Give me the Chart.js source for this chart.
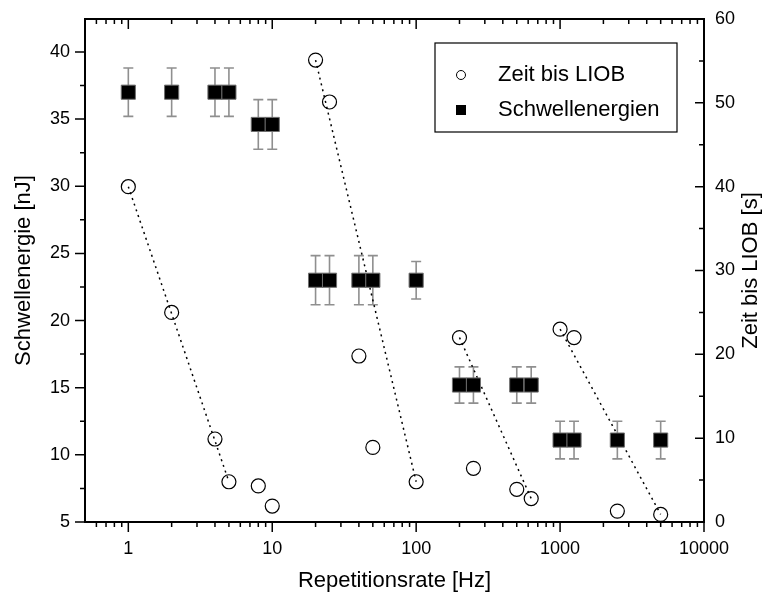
<!DOCTYPE html>
<html>
<head>
<meta charset="utf-8">
<script src="https://cdn.jsdelivr.net/npm/chart.js@4.4.0/dist/chart.umd.min.js"></script>
<style>
  html, body { margin: 0; padding: 0; background: #fff; }
  #wrap { width: 767px; height: 604px; }
</style>
</head>
<body>
<div id="wrap"><canvas id="myChart" width="767" height="604"></canvas></div>
<script>
// Repetitionsrate [Hz]
const rates = [1, 2, 4, 5, 8, 10, 20, 25, 40, 50, 100, 200, 250, 500, 630, 1000, 1250, 2500, 5000];
// Zeit bis LIOB [s] (rechte Achse)
const zeitBisLiob = [40.0, 25.0, 9.9, 4.8, 4.3, 1.9, 55.1, 50.1, 19.8, 8.9, 4.8, 22.0, 6.4, 3.9, 2.8, 23.0, 22.0, 1.3, 0.9];
// Schwellenergien [nJ] (linke Achse) und Fehler
const schwellenergien = [37.0, 37.0, 37.0, 37.0, 34.6, 34.6, 23.0, 23.0, 23.0, 23.0, 23.0, 15.2, 15.2, 15.2, 15.2, 11.1, 11.1, 11.1, 11.1];
const fehler = [1.8, 1.8, 1.8, 1.8, 1.85, 1.85, 1.83, 1.83, 1.83, 1.83, 1.4, 1.35, 1.35, 1.35, 1.35, 1.4, 1.4, 1.4, 1.4];
// punktierte Verbindungslinien: Anfangs- und Endindex in rates
const trendGroups = [[0, 3], [6, 10], [11, 14], [15, 18]];

const xTicks = [1, 10, 100, 1000, 10000];
const leftTicks = [5, 10, 15, 20, 25, 30, 35, 40];
const rightTicks = [0, 10, 20, 30, 40, 50, 60];

const FONT = 'Arial, "Liberation Sans", sans-serif';

const trendSets = trendGroups.map(([a, b]) => ({
  type: 'line',
  label: 'trend',
  data: [{ x: rates[a], y: zeitBisLiob[a] }, { x: rates[b], y: zeitBisLiob[b] }],
  yAxisID: 'y2',
  borderColor: '#000',
  borderWidth: 1.5,
  borderDash: [2, 4],
  pointRadius: 0,
  fill: false
}));

const noPad = s => { s.paddingTop = 0; s.paddingBottom = 0; s.paddingLeft = 0; s.paddingRight = 0; };

const extras = {
  id: 'extras',
  beforeDatasetsDraw(chart) {
    const ctx = chart.ctx, x = chart.scales.x, y = chart.scales.y;
    ctx.save();
    ctx.strokeStyle = '#8f8f8f';
    ctx.lineWidth = 1.6;
    rates.forEach((r, i) => {
      const px = x.getPixelForValue(r);
      const top = y.getPixelForValue(schwellenergien[i] + fehler[i]);
      const bot = y.getPixelForValue(schwellenergien[i] - fehler[i]);
      ctx.beginPath();
      ctx.moveTo(px, top); ctx.lineTo(px, bot);
      ctx.moveTo(px - 5, top); ctx.lineTo(px + 5, top);
      ctx.moveTo(px - 5, bot); ctx.lineTo(px + 5, bot);
      ctx.stroke();
    });
    ctx.restore();
  },
  afterDraw(chart) {
    const ctx = chart.ctx, a = chart.chartArea;
    const x = chart.scales.x, y = chart.scales.y, y2 = chart.scales.y2;
    ctx.save();
    ctx.strokeStyle = '#000';
    ctx.lineWidth = 2;
    ctx.beginPath();
    ctx.moveTo(a.left - 1, a.top); ctx.lineTo(a.right + 1, a.top);
    ctx.stroke();

    ctx.lineWidth = 1.5;
    ctx.beginPath();
    // x ticks: bottom outward, top inward
    const xMinor = [];
    for (let d = 0.1; d < 10000; d *= 10) {
      for (let k = 2; k <= 9; k++) {
        const v = +(k * d).toPrecision(3);
        if (v > 0.5 && v < 10000) xMinor.push(v);
      }
    }
    xTicks.forEach(v => {
      const p = x.getPixelForValue(v);
      ctx.moveTo(p, a.bottom); ctx.lineTo(p, a.bottom + 10);
      ctx.moveTo(p, a.top); ctx.lineTo(p, a.top + 10);
    });
    xMinor.forEach(v => {
      const p = x.getPixelForValue(v);
      ctx.moveTo(p, a.bottom); ctx.lineTo(p, a.bottom + 5);
      ctx.moveTo(p, a.top); ctx.lineTo(p, a.top + 5);
    });
    // left ticks outward
    leftTicks.forEach(v => {
      const p = y.getPixelForValue(v);
      ctx.moveTo(a.left, p); ctx.lineTo(a.left - 10, p);
      if (v + 2.5 < y.max) {
        const q = y.getPixelForValue(v + 2.5);
        ctx.moveTo(a.left, q); ctx.lineTo(a.left - 5, q);
      }
    });
    // right ticks inward
    rightTicks.forEach(v => {
      const p = y2.getPixelForValue(v);
      ctx.moveTo(a.right, p); ctx.lineTo(a.right - 9, p);
      if (v + 5 < y2.max) {
        const q = y2.getPixelForValue(v + 5);
        ctx.moveTo(a.right, q); ctx.lineTo(a.right - 5, q);
      }
    });
    ctx.stroke();

    // right axis title, reading upwards
    ctx.fillStyle = '#000';
    ctx.font = '22px ' + FONT;
    ctx.textAlign = 'center';
    ctx.textBaseline = 'middle';
    ctx.translate(751, (a.top + a.bottom) / 2);
    ctx.rotate(-Math.PI / 2);
    ctx.fillText('Zeit bis LIOB [s]', 0, 0);
    ctx.setTransform(1, 0, 0, 1, 0, 0);

    // legend box
    const lx = 435, ly = 43, lw = 242, lh = 89;
    ctx.lineWidth = 1.2;
    ctx.strokeRect(lx, ly, lw, lh);
    ctx.beginPath();
    ctx.arc(lx + 26, ly + 32, 4.5, 0, Math.PI * 2);
    ctx.lineWidth = 1;
    ctx.stroke();
    ctx.fillRect(lx + 21, ly + 62, 10, 10);
    ctx.font = '22px ' + FONT;
    ctx.textAlign = 'left';
    ctx.fillText(chart.data.datasets[0].label, lx + 63, ly + 32);
    ctx.fillText(chart.data.datasets[1].label, lx + 63, ly + 67);
    ctx.restore();
  }
};

const ctx = document.getElementById('myChart').getContext('2d');
const myChart = new Chart(ctx, {
  data: {
    datasets: [{
      type: 'scatter',
      label: 'Zeit bis LIOB',
      data: rates.map((r, i) => ({ x: r, y: zeitBisLiob[i] })),
      yAxisID: 'y2',
      pointStyle: 'circle',
      pointRadius: 7,
      pointBorderColor: '#000',
      pointBorderWidth: 1.2,
      pointBackgroundColor: 'rgba(0,0,0,0)'
    }, {
      type: 'scatter',
      label: 'Schwellenergien',
      data: rates.map((r, i) => ({ x: r, y: schwellenergien[i] })),
      yAxisID: 'y',
      pointStyle: 'rect',
      pointRadius: 10,
      pointBorderColor: '#6f6f6f',
      pointBorderWidth: 1,
      pointBackgroundColor: '#000'
    }, ...trendSets]
  },
  options: {
    responsive: false,
    animation: false,
    layout: { padding: { top: 19, left: 0, right: 0, bottom: 0 } },
    plugins: { legend: { display: false }, tooltip: { enabled: false } },
    scales: {
      x: {
        type: 'logarithmic',
        position: 'bottom',
        min: 0.5,
        max: 10000,
        afterBuildTicks: s => { s.ticks = xTicks.map(v => ({ value: v })); },
        afterFit: s => { s.height = 82; noPad(s); },
        grid: { display: false, drawTicks: false },
        border: { display: true, color: '#000', width: 2 },
        ticks: {
          color: '#000',
          font: { family: FONT, size: 18 },
          padding: 16,
          maxRotation: 0,
          autoSkip: false,
          callback: v => String(v)
        },
        title: {
          display: true,
          text: 'Repetitionsrate [Hz]',
          color: '#000',
          font: { family: FONT, size: 22 },
          padding: { top: 0, bottom: 10 }
        }
      },
      y: {
        type: 'linear',
        position: 'left',
        min: 5,
        max: 42.45,
        afterBuildTicks: s => { s.ticks = leftTicks.map(v => ({ value: v })); },
        afterFit: s => { s.width = 85; noPad(s); },
        grid: { display: false, drawTicks: false },
        border: { display: true, color: '#000', width: 2 },
        ticks: {
          color: '#000',
          font: { family: FONT, size: 18 },
          padding: 15,
          callback: v => String(v)
        },
        title: {
          display: true,
          text: 'Schwellenergie [nJ]',
          color: '#000',
          font: { family: FONT, size: 22 },
          padding: { top: 11, bottom: 0 }
        }
      },
      y2: {
        type: 'linear',
        position: 'right',
        min: 0,
        max: 60,
        afterBuildTicks: s => { s.ticks = rightTicks.map(v => ({ value: v })); },
        afterFit: s => { s.width = 63; noPad(s); },
        grid: { display: false, drawTicks: false },
        border: { display: true, color: '#000', width: 2 },
        ticks: {
          color: '#000',
          font: { family: FONT, size: 18 },
          padding: 11,
          callback: v => String(v)
        }
      }
    }
  },
  plugins: [extras]
});
</script>
</body>
</html>
